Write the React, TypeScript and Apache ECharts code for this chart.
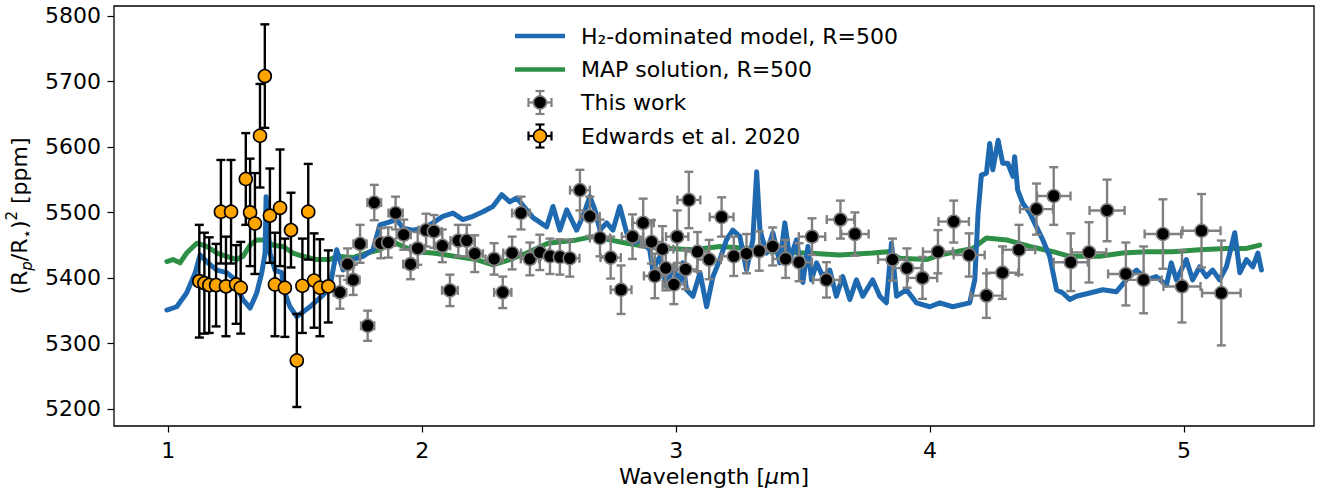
import { useEffect, useRef } from "react";
import * as echarts from "echarts";

// ---------- axis ticks ----------
const xTicks = [1, 2, 3, 4, 5];
const yTicks = [5200, 5300, 5400, 5500, 5600, 5700, 5800];

// ---------- This work (black points) ----------
const twWave = [1.676,1.706,1.728,1.755,1.785,1.811,1.837,1.866,1.895,1.927,1.954,1.982,2.015,2.046,2.079,2.109,2.142,2.175,2.207,2.283,2.317,2.354,2.389,2.424,2.463,2.503,2.542,2.581,2.621,2.660,2.700,2.742,2.783,2.828,2.870,2.903,2.916,2.946,2.959,2.991,3.004,3.037,3.050,3.084,3.130,3.179,3.227,3.277,3.327,3.380,3.431,3.484,3.535,3.592,3.647,3.704,3.852,3.909,3.970,4.031,4.093,4.154,4.222,4.285,4.350,4.419,4.487,4.554,4.626,4.697,4.771,4.841,4.917,4.992,5.069,5.147];
const twFlux = [5378,5421,5397,5452,5327,5515,5453,5454,5499,5466,5421,5445,5473,5471,5449,5381,5457,5457,5437,5429,5378,5438,5499,5429,5439,5433,5432,5430,5534,5494,5461,5431,5382,5463,5484,5455,5403,5444,5415,5390,5463,5413,5519,5440,5428,5493,5433,5437,5441,5448,5429,5424,5463,5397,5489,5467,5428,5415,5400,5440,5486,5435,5373,5408,5443,5505,5525,5424,5439,5503,5406,5397,5467,5387,5472,5377];
const twErrY = [25,24,23,29,23,27,23,23,25,23,23,25,25,25,25,24,24,24,28,24,24,25,25,25,27,27,27,28,31,30,28,32,37,34,37,33,34,35,34,30,40,30,43,30,30,30,30,30,30,29,29,29,28,27,29,33,32,30,32,33,32,33,34,40,38,39,44,44,46,47,48,51,53,55,56,80];
const twErrX = [0.025,0.025,0.025,0.026,0.026,0.027,0.027,0.027,0.028,0.028,0.029,0.029,0.030,0.030,0.031,0.031,0.031,0.032,0.032,0.034,0.034,0.035,0.035,0.036,0.036,0.037,0.037,0.038,0.039,0.039,0.040,0.040,0.041,0.042,0.042,0.043,0.043,0.043,0.044,0.044,0.044,0.045,0.045,0.045,0.046,0.047,0.047,0.048,0.049,0.050,0.050,0.051,0.052,0.053,0.054,0.054,0.057,0.057,0.058,0.059,0.060,0.061,0.062,0.063,0.064,0.065,0.066,0.067,0.068,0.069,0.070,0.071,0.072,0.073,0.075,0.076];

// ---------- Edwards et al. 2020 (orange points) ----------
const edWave = [1.122,1.142,1.161,1.188,1.207,1.227,1.247,1.267,1.285,1.305,1.322,1.341,1.361,1.380,1.400,1.420,1.440,1.459,1.483,1.506,1.528,1.551,1.574,1.597,1.630];
const edFlux = [5395,5392,5389,5389,5501,5387,5501,5390,5385,5551,5500,5483,5617,5708,5495,5390,5507,5385,5473,5274,5388,5501,5396,5385,5387];
const edErrY = [86,77,73,63,79,76,79,60,70,70,82,77,79,79,72,79,89,75,57,71,72,73,72,74,55];

// ---------- H2-dominated model, R=500 (blue) ----------
const blueWave = [0.994,1.033,1.072,1.105,1.125,1.156,1.191,1.230,1.255,1.274,1.294,1.322,1.348,1.368,1.381,1.385,1.400,1.420,1.446,1.459,1.479,1.506,1.558,1.610,1.637,1.663,1.688,1.727,1.767,1.806,1.833,1.860,1.899,1.924,1.963,2.003,2.042,2.081,2.121,2.160,2.200,2.239,2.278,2.313,2.345,2.372,2.411,2.436,2.490,2.515,2.542,2.569,2.608,2.633,2.660,2.680,2.700,2.726,2.751,2.778,2.805,2.830,2.857,2.896,2.908,2.936,2.962,2.987,3.015,3.026,3.041,3.066,3.094,3.120,3.145,3.172,3.198,3.223,3.251,3.277,3.302,3.317,3.330,3.356,3.381,3.408,3.428,3.448,3.474,3.499,3.519,3.533,3.553,3.578,3.605,3.631,3.656,3.684,3.710,3.735,3.774,3.802,3.828,3.848,3.868,3.907,3.946,3.999,4.038,4.089,4.156,4.176,4.189,4.202,4.222,4.235,4.247,4.268,4.286,4.306,4.326,4.333,4.345,4.365,4.393,4.419,4.444,4.471,4.498,4.523,4.550,4.576,4.629,4.680,4.734,4.773,4.813,4.852,4.891,4.931,4.950,4.970,5.009,5.034,5.062,5.088,5.113,5.140,5.167,5.200,5.220,5.246,5.271,5.291,5.305];
const blueFlux = [5351,5356,5377,5407,5435,5423,5412,5408,5400,5382,5367,5354,5377,5408,5438,5524,5438,5412,5408,5377,5356,5341,5356,5374,5387,5443,5412,5428,5433,5443,5481,5484,5489,5476,5473,5476,5484,5494,5499,5489,5494,5501,5509,5527,5516,5522,5504,5492,5478,5509,5473,5504,5473,5494,5524,5504,5473,5484,5473,5509,5469,5453,5458,5443,5412,5433,5387,5417,5393,5423,5382,5372,5408,5356,5402,5428,5458,5473,5463,5412,5458,5562,5473,5438,5469,5423,5484,5428,5458,5393,5448,5397,5423,5402,5412,5372,5402,5367,5397,5372,5397,5372,5362,5453,5372,5382,5362,5356,5362,5356,5362,5397,5499,5557,5560,5605,5565,5610,5575,5575,5555,5585,5534,5514,5499,5478,5458,5433,5382,5377,5367,5372,5377,5382,5379,5397,5412,5397,5402,5389,5423,5397,5428,5397,5417,5402,5412,5397,5417,5469,5408,5428,5417,5438,5412];

// ---------- MAP solution, R=500 (green) ----------
const greenWave = [0.994,1.018,1.046,1.072,1.112,1.151,1.191,1.230,1.269,1.294,1.322,1.348,1.381,1.412,1.452,1.491,1.530,1.584,1.637,1.663,1.727,1.781,1.833,1.886,1.924,1.978,2.042,2.096,2.160,2.214,2.278,2.345,2.411,2.495,2.608,2.672,2.739,2.805,2.883,2.975,3.066,3.172,3.290,3.381,3.513,3.644,3.774,3.833,3.881,3.986,4.038,4.168,4.222,4.301,4.393,4.484,4.550,4.589,4.668,4.759,4.852,4.955,5.062,5.167,5.246,5.298];
const greenFlux = [5425,5428,5423,5438,5453,5448,5438,5433,5428,5433,5450,5458,5458,5450,5448,5438,5433,5428,5428,5433,5431,5438,5443,5455,5448,5440,5438,5435,5431,5428,5420,5428,5438,5453,5458,5463,5458,5453,5448,5445,5443,5448,5445,5440,5438,5435,5438,5440,5430,5428,5435,5445,5461,5458,5448,5440,5433,5433,5433,5438,5440,5440,5443,5445,5445,5450];

const legendLabels = ["H\u2082-dominated model, R=500", "MAP solution, R=500", "This work", "Edwards et al. 2020"];

const BLUE = "#1f69b1";
const GREEN = "#2e8f47";
const GRAY = "#808080";
const ORANGE = "#ffa500";
const FONT = "DejaVu Sans";

function errRender(color: string, lw: number, cap: number) {
  return (params: any, api: any) => {
    const x = api.value(0), y = api.value(1), ex = api.value(2), ey = api.value(3);
    const c = api.coord([x, y]);
    const top = api.coord([x, y + ey]);
    const bot = api.coord([x, y - ey]);
    const style = { stroke: color, lineWidth: lw };
    const children: any[] = [
      { type: "line", shape: { x1: c[0], y1: top[1], x2: c[0], y2: bot[1] }, style },
      { type: "line", shape: { x1: c[0] - cap, y1: top[1], x2: c[0] + cap, y2: top[1] }, style },
      { type: "line", shape: { x1: c[0] - cap, y1: bot[1], x2: c[0] + cap, y2: bot[1] }, style },
    ];
    if (ex > 0) {
      const l = api.coord([x - ex, y]);
      const r = api.coord([x + ex, y]);
      children.push(
        { type: "line", shape: { x1: l[0], y1: c[1], x2: r[0], y2: c[1] }, style },
        { type: "line", shape: { x1: l[0], y1: c[1] - cap, x2: l[0], y2: c[1] + cap }, style },
        { type: "line", shape: { x1: r[0], y1: c[1] - cap, x2: r[0], y2: c[1] + cap }, style }
      );
    }
    return { type: "group", children };
  };
}

function legendIcon(cx: number, cy: number, barColor: string, fill: string, edge: string) {
  const s = { stroke: barColor, lineWidth: 2.2 };
  const h = 11.5, cap = 4.5;
  return [
    { type: "line", shape: { x1: cx, y1: cy - h, x2: cx, y2: cy + h }, style: s },
    { type: "line", shape: { x1: cx - cap, y1: cy - h, x2: cx + cap, y2: cy - h }, style: s },
    { type: "line", shape: { x1: cx - cap, y1: cy + h, x2: cx + cap, y2: cy + h }, style: s },
    { type: "line", shape: { x1: cx - h, y1: cy, x2: cx + h, y2: cy }, style: s },
    { type: "line", shape: { x1: cx - h, y1: cy - cap, x2: cx - h, y2: cy + cap }, style: s },
    { type: "line", shape: { x1: cx + h, y1: cy - cap, x2: cx + h, y2: cy + cap }, style: s },
    { type: "circle", shape: { cx, cy, r: 6.5 }, style: { fill, stroke: edge, lineWidth: 1.6 } },
  ];
}

export default function App() {
  const ref = useRef<HTMLDivElement>(null);
  useEffect(() => {
    document.body.style.margin = "0";
    const chart = echarts.init(ref.current!, null, { renderer: "svg" });
    const legendRows = [36, 69.5, 102.5, 136];
    const legendText = legendLabels.map((t, i) => ({
      type: "text",
      x: 581,
      y: legendRows[i],
      style: { text: t, fill: "#000", fontSize: 22, fontFamily: FONT, verticalAlign: "middle", align: "left" },
    }));
    const plain = (v: number) => String(v);
    const option: any = {
      animation: false,
      textStyle: { fontFamily: FONT },
      grid: {
        left: 114, right: 13, top: 6, bottom: 69,
        containLabel: false, outerBoundsMode: "none",
        show: true, borderColor: "#000", borderWidth: 1.3, backgroundColor: "transparent",
      },
      xAxis: {
        type: "value",
        min: 0.786,
        max: 5.512,
        axisLine: { show: false },
        splitLine: { show: false },
        axisTick: { show: true, customValues: xTicks, length: 6.5, lineStyle: { color: "#000", width: 1.2 } },
        axisLabel: { customValues: xTicks, formatter: plain, fontSize: 22, fontFamily: FONT, color: "#000", margin: 13 },
        name: "Wavelength [{i|\u03bc}m]",
        nameLocation: "middle",
        nameGap: 38,
        nameTextStyle: {
          fontSize: 22, fontFamily: FONT, color: "#000",
          rich: { i: { fontSize: 22, fontFamily: FONT, fontStyle: "italic", color: "#000" } },
        },
      },
      yAxis: {
        type: "value",
        min: 5174,
        max: 5815,
        axisLine: { show: false },
        splitLine: { show: false },
        axisTick: { show: true, customValues: yTicks, length: 6.5, lineStyle: { color: "#000", width: 1.2 } },
        axisLabel: { customValues: yTicks, formatter: plain, fontSize: 22, fontFamily: FONT, color: "#000", margin: 13 },
        name: "(R{sp|p}/R{ss|\u22c6}){su|2} [ppm]",
        nameLocation: "middle",
        nameGap: 78,
        nameTextStyle: {
          fontSize: 22, fontFamily: FONT, color: "#000", lineHeight: 30,
          rich: {
            sp: { fontSize: 15, fontFamily: FONT, fontStyle: "italic", color: "#000", verticalAlign: "bottom", lineHeight: 16 },
            ss: { fontSize: 15, fontFamily: FONT, color: "#000", verticalAlign: "bottom", lineHeight: 16 },
            su: { fontSize: 15, fontFamily: FONT, color: "#000", verticalAlign: "top", lineHeight: 16 },
          },
        },
      },
      series: [
        {
          name: legendLabels[1], type: "line", showSymbol: false, z: 2,
          data: greenWave.map((w, i) => [w, greenFlux[i]]),
          lineStyle: { color: GREEN, width: 5, join: "round", cap: "round" }, itemStyle: { color: GREEN },
        },
        {
          name: legendLabels[0], type: "line", showSymbol: false, z: 3,
          data: blueWave.map((w, i) => [w, blueFlux[i]]),
          lineStyle: { color: BLUE, width: 5, join: "round", cap: "round" }, itemStyle: { color: BLUE },
        },
        {
          type: "custom", z: 4, renderItem: errRender(GRAY, 2.4, 4.5),
          encode: { x: 0, y: 1 },
          data: twWave.map((w, i) => [w, twFlux[i], twErrX[i], twErrY[i]]),
        },
        {
          type: "custom", z: 4, renderItem: errRender("#000", 2.4, 4.5),
          encode: { x: 0, y: 1 },
          data: edWave.map((w, i) => [w, edFlux[i], 0, edErrY[i]]),
        },
        {
          name: legendLabels[2], type: "scatter", z: 5, symbol: "circle", symbolSize: 13,
          data: twWave.map((w, i) => [w, twFlux[i]]),
          itemStyle: { color: "#000", borderColor: GRAY, borderWidth: 1.6, opacity: 1 },
        },
        {
          name: legendLabels[3], type: "scatter", z: 6, symbol: "circle", symbolSize: 13,
          data: edWave.map((w, i) => [w, edFlux[i]]),
          itemStyle: { color: ORANGE, borderColor: "#000", borderWidth: 1.6, opacity: 1 },
        },
      ],
      graphic: [
        { type: "line", shape: { x1: 515, y1: 36, x2: 565, y2: 36 }, style: { stroke: BLUE, lineWidth: 4.5 } },
        { type: "line", shape: { x1: 515, y1: 69.5, x2: 565, y2: 69.5 }, style: { stroke: GREEN, lineWidth: 4.5 } },
        ...legendIcon(540, 102.5, GRAY, "#000", GRAY),
        ...legendIcon(540, 136, "#000", ORANGE, "#000"),
        ...legendText,
      ],
    };
    chart.setOption(option);
    return () => chart.dispose();
  }, []);
  return <div ref={ref} style={{ width: 1327, height: 495 }} />;
}
